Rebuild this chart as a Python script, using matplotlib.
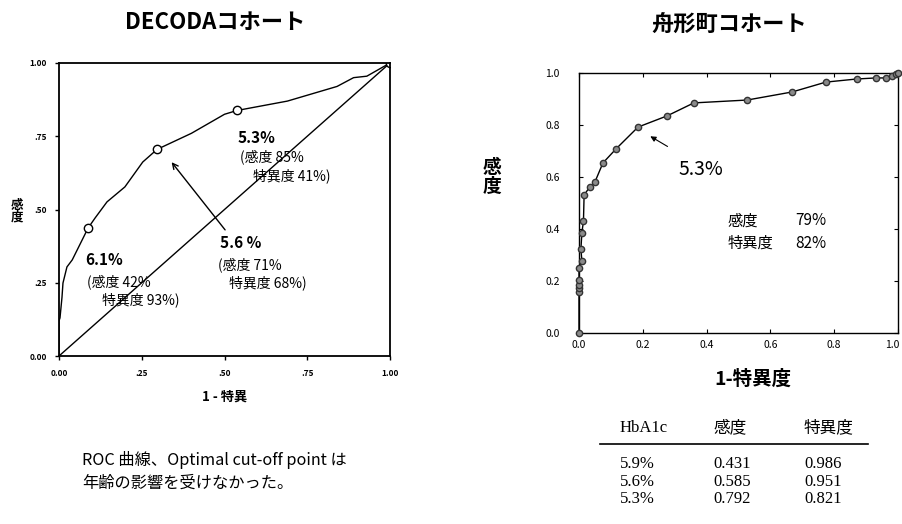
import numpy as np
import matplotlib
matplotlib.use('Agg')
import matplotlib.pyplot as plt
import matplotlib.transforms as mtransforms

plt.rcParams['font.family'] = ['Noto Sans CJK JP', 'DejaVu Sans']

# DECODA cohort ROC curve
decoda_fpr = [0.0, 0.0, 0.003, 0.009, 0.012, 0.024, 0.04, 0.088, 0.109, 0.145, 0.199,
              0.253, 0.296, 0.40, 0.50, 0.538, 0.69, 0.84, 0.89, 0.93, 1.0]
decoda_tpr = [0.0, 0.12, 0.13, 0.20, 0.249, 0.304, 0.328, 0.437, 0.471, 0.526, 0.577,
              0.662, 0.705, 0.76, 0.825, 0.838, 0.87, 0.92, 0.95, 0.955, 1.0]
decoda_cut_fpr = [0.088, 0.296, 0.538, 1.0]
decoda_cut_tpr = [0.437, 0.705, 0.838, 1.0]
decoda_ticks = [0.0, 0.25, 0.5, 0.75, 1.0]
decoda_ticklabels = ['0.00', '.25', '.50', '.75', '1.00']

# Funagata cohort ROC curve
funa_fpr = [0.0, 0.0, 0.0, 0.0, 0.0, 0.0, 0.009, 0.006, 0.009, 0.014, 0.016, 0.034,
            0.05, 0.075, 0.116, 0.185, 0.276, 0.36, 0.527, 0.668, 0.774, 0.871,
            0.931, 0.962, 0.981, 0.995, 1.0]
funa_tpr = [0.0, 0.158, 0.173, 0.185, 0.204, 0.25, 0.277, 0.323, 0.385, 0.431, 0.531,
            0.562, 0.581, 0.654, 0.708, 0.792, 0.835, 0.885, 0.896, 0.927, 0.965,
            0.977, 0.981, 0.981, 0.988, 0.996, 1.0]
funa_ticks = [0.0, 0.2, 0.4, 0.6, 0.8, 1.0]

# table
table_header = ['HbA1c', '感度', '特異度']
table_hba1c = ['5.9%', '5.6%', '5.3%']
table_sens = ['0.431', '0.585', '0.792']
table_spec = ['0.986', '0.951', '0.821']

W, H = 902, 524
fig = plt.figure(figsize=(W / 100, H / 100), dpi=100)


def ftext(px, py, s, **kw):
    fig.text(px / W, 1 - py / H, s, **kw)


# ---- left panel ----
ax1 = fig.add_axes([59 / W, 1 - 356 / H, 331 / W, 293 / H])
ax1.plot([0, 1], [0, 1], color='black', lw=1)
ax1.plot(decoda_fpr, decoda_tpr, color='black', lw=1)
ax1.plot(decoda_cut_fpr, decoda_cut_tpr, 'o', ms=6, mfc='white', mec='black', mew=1)
ax1.set_xlim(0, 1)
ax1.set_ylim(0, 1)
ax1.set_xticks(decoda_ticks)
ax1.set_xticklabels(decoda_ticklabels)
ax1.set_yticks(decoda_ticks)
ax1.set_yticklabels(decoda_ticklabels)
ax1.tick_params(labelsize=6, length=3, width=1, pad=6)
for lab in ax1.get_xticklabels() + ax1.get_yticklabels():
    lab.set_fontweight('bold')
for sp in ax1.spines.values():
    sp.set_linewidth(1.3)

kw = dict(fontsize=10, va='center', ha='left')
ax1.text(0.538, 0.745, '5.3%', fontsize=11, fontweight='bold', va='center', ha='left')
ax1.text(0.547, 0.679, '(感度 85%', **kw)
ax1.text(0.586, 0.614, '特異度 41%)', **kw)
ax1.text(0.486, 0.386, '5.6 %', fontsize=11, fontweight='bold', va='center', ha='left')
ax1.text(0.480, 0.311, '(感度 71%', **kw)
ax1.text(0.514, 0.249, '特異度 68%)', **kw)
ax1.text(0.079, 0.328, '6.1%', fontsize=11, fontweight='bold', va='center', ha='left')
ax1.text(0.085, 0.253, '(感度 42%', **kw)
ax1.text(0.130, 0.191, '特異度 93%)', **kw)
ax1.annotate('', xy=(0.335, 0.669), xytext=(0.507, 0.423),
             arrowprops=dict(arrowstyle='->', color='black', lw=1, mutation_scale=10))

ftext(215, 22, 'DECODAコホート', fontsize=16, fontweight='bold', ha='center', va='center')
ftext(17, 211, '感\n度', fontsize=9, fontweight='bold', ha='center', va='center', linespacing=0.9)
ftext(225, 397, '1 - 特異', fontsize=9.5, fontweight='bold', ha='center', va='center')
ftext(82, 460, 'ROC 曲線、Optimal cut-off point は', fontsize=11.7, ha='left', va='center')
ftext(82, 483, '年齢の影響を受けなかった。', fontsize=11.7, ha='left', va='center')

# ---- right panel ----
ax2 = fig.add_axes([579 / W, 1 - 333 / H, 319 / W, 260 / H])
ax2.plot(funa_fpr, funa_tpr, '-o', color='black', lw=1, ms=4.5,
         mfc='#8a8a8a', mec='#333333', mew=1, clip_on=False, zorder=3)
ax2.set_xlim(0, 1)
ax2.set_ylim(0, 1)
ax2.set_xticks(funa_ticks)
ax2.set_yticks(funa_ticks)
ax2.set_xticklabels([f'{t:.1f}' for t in funa_ticks])
ax2.set_yticklabels([f'{t:.1f}' for t in funa_ticks])
ax2.tick_params(labelsize=7.5, direction='in', length=3, top=True, right=True, pad=5)
ax2.tick_params(axis='y', pad=14)
for sp in ax2.spines.values():
    sp.set_linewidth(1)
last = ax2.get_xticklabels()[-1]
last.set_transform(last.get_transform() + mtransforms.ScaledTranslation(-6 / 100, 0, fig.dpi_scale_trans))

ax2.annotate('', xy=(0.216, 0.762), xytext=(0.285, 0.712),
             arrowprops=dict(arrowstyle='-|>', color='black', lw=0.8, mutation_scale=8))
ax2.text(0.313, 0.627, '5.3%', fontsize=14, va='center', ha='left')
ax2.text(0.467, 0.431, '感度', fontsize=11, va='center', ha='left')
ax2.text(0.677, 0.431, '79%', fontsize=11, va='center', ha='left')
ax2.text(0.467, 0.346, '特異度', fontsize=11, va='center', ha='left')
ax2.text(0.677, 0.346, '82%', fontsize=11, va='center', ha='left')

ftext(729, 25, '舟形町コホート', fontsize=16, fontweight='bold', ha='center', va='center')
ftext(492, 177, '感\n度', fontsize=13.5, fontweight='bold', ha='center', va='center', linespacing=0.95)
ftext(753, 379, '1-特異度', fontsize=14, fontweight='bold', ha='center', va='center')

# ---- table ----
serif = ['Liberation Serif', 'Noto Sans CJK JP']
col_x = [620, 713, 804]
for x, s in zip(col_x, table_header):
    ftext(x, 428, s, fontsize=12, family=serif, ha='left', va='center')
fig.add_artist(plt.Line2D([600 / W, 868 / W], [1 - 444 / H, 1 - 444 / H],
                          color='black', lw=1.2))
row_y = [464, 482, 499]
for i, y in enumerate(row_y):
    ftext(col_x[0], y, table_hba1c[i], fontsize=12, family=serif, ha='left', va='center')
    ftext(col_x[1], y, table_sens[i], fontsize=12, family=serif, ha='left', va='center')
    ftext(col_x[2], y, table_spec[i], fontsize=12, family=serif, ha='left', va='center')

fig.savefig('out.png', dpi=100)
